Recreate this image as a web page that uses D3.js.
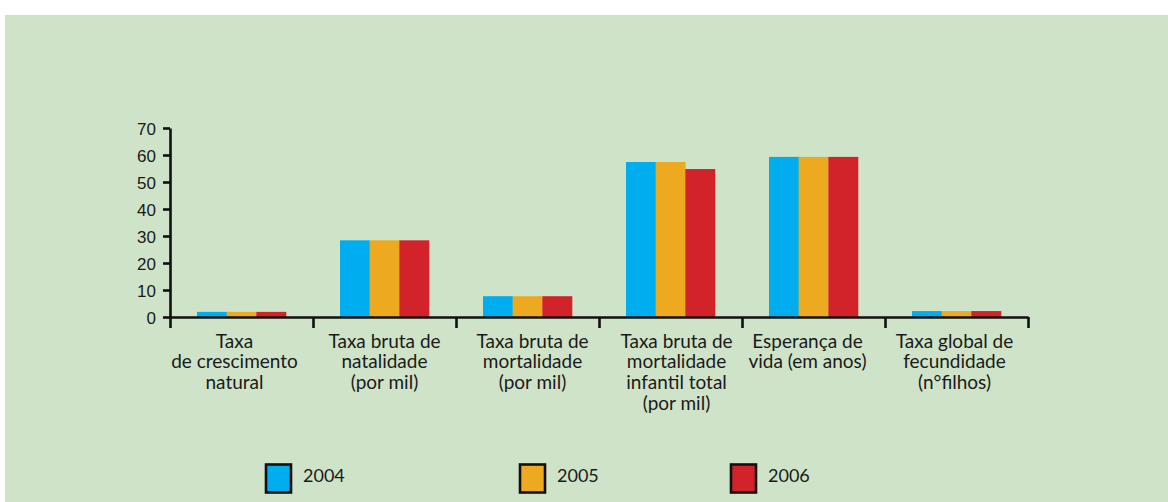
<!DOCTYPE html>
<html>
<head>
<meta charset="utf-8">
<script src="https://cdn.jsdelivr.net/npm/d3@7"></script>
<style>
  html, body { margin: 0; padding: 0; background: #ffffff; }
  svg { display: block; font-family: Lato, "Liberation Sans", sans-serif; }
</style>
</head>
<body>
<svg id="chart" width="1168" height="502"></svg>
<script>
// ---- data ----
const categories = [
  ["Taxa", "de crescimento", "natural"],
  ["Taxa bruta de", "natalidade", "(por mil)"],
  ["Taxa bruta de", "mortalidade", "(por mil)"],
  ["Taxa bruta de", "mortalidade", "infantil total", "(por mil)"],
  ["Esperança de", "vida (em anos)"],
  ["Taxa global de", "fecundidade", "(n°filhos)"]
];
const years = ["2004", "2005", "2006"];
const values2004 = [1.9, 28.4, 7.7, 57.4, 59.3, 2.2];
const values2005 = [1.9, 28.4, 7.7, 57.4, 59.3, 2.2];
const values2006 = [1.9, 28.4, 7.7, 54.8, 59.3, 2.2];
const yTicks = [0, 10, 20, 30, 40, 50, 60, 70];

const series = [values2004, values2005, values2006];
const colors = ["#00aeef", "#edaa21", "#d2232a"];

// ---- layout ----
const W = 1168, H = 502;
const x0 = 170, x1 = 1028, yTop = 128, yZero = 317;
const labelNudge = [-7, 0, 5, 6, -6, -2];
const legendX = [266, 520, 731];

const svg = d3.select("#chart");
svg.append("rect").attr("x", 5).attr("y", 15).attr("width", W - 5).attr("height", H - 15).attr("fill", "#cfe3c8");

const catIdx = d3.range(categories.length);
const x = d3.scaleBand().domain(catIdx).range([x0, x1]).paddingInner(0).paddingOuter(0);
const xs = d3.scaleBand().domain(years).range([0, x.bandwidth()]).paddingInner(0).paddingOuter(0.91);
const y = d3.scaleLinear().domain([0, 70]).range([yZero, yTop]);

// bars
const g = svg.append("g");
catIdx.forEach(ci => {
  years.forEach((yr, si) => {
    const v = series[si][ci];
    g.append("rect")
      .attr("x", x(ci) + xs(yr))
      .attr("y", y(v))
      .attr("width", xs.bandwidth() + 0.3)
      .attr("height", y(0) - y(v))
      .attr("fill", colors[si]);
  });
});

// y axis
const yAxis = svg.append("g").attr("transform", `translate(${x0},0)`)
  .call(d3.axisLeft(y).tickValues(yTicks).tickSize(7).tickSizeOuter(0).tickPadding(7).tickFormat(d3.format("d")));
yAxis.selectAll("path, line").attr("stroke", "#111").attr("stroke-width", 2.6);
yAxis.selectAll("text").attr("fill", "#1a1a1a").style("font-size", "17px").attr("dy", "0.36em");

// x axis with ticks at category boundaries
const xb = d3.scaleLinear().domain([0, categories.length]).range([x0, x1]);
const xAxis = svg.append("g").attr("transform", `translate(0,${yZero})`)
  .call(d3.axisBottom(xb).tickValues(d3.range(categories.length + 1)).tickSize(11).tickSizeOuter(0).tickFormat(""));
xAxis.selectAll("path, line").attr("stroke", "#111").attr("stroke-width", 2.6);

// category labels
const lab = svg.append("g");
categories.forEach((lines, ci) => {
  const t = lab.append("text")
    .attr("text-anchor", "middle")
    .attr("fill", "#1a1a1a")
    .style("font-size", "19px");
  lines.forEach((ln, li) => {
    t.append("tspan")
      .attr("x", x(ci) + x.bandwidth() / 2 + labelNudge[ci])
      .attr("y", 347.5 + li * 20.8)
      .text(ln);
  });
});

// legend
const leg = svg.append("g");
years.forEach((yr, si) => {
  leg.append("rect")
    .attr("x", legendX[si]).attr("y", 464.5)
    .attr("width", 25).attr("height", 28)
    .attr("fill", colors[si]).attr("stroke", "#111").attr("stroke-width", 2.6);
  leg.append("text")
    .attr("x", legendX[si] + 37).attr("y", 481.5)
    .attr("fill", "#1a1a1a")
    .style("font-size", "18px")
    .text(yr);
});
</script>
</body>
</html>
